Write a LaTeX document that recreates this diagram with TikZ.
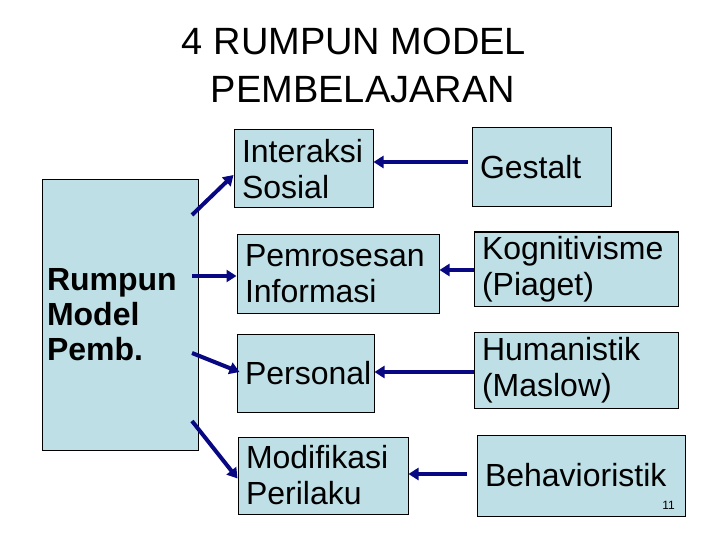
\documentclass[tikz,border=0pt]{standalone}
\usepackage{fontspec}
\setmainfont{Liberation Sans}
\usetikzlibrary{arrows.meta,calc}
\definecolor{boxfill}{RGB}{190,223,229}
\definecolor{arrowblue}{RGB}{8,8,130}
\tikzset{
  box/.style={draw=black, line width=1pt, fill=boxfill, align=left, inner xsep=8pt, inner ysep=0pt, font=\fontsize{32}{36}\selectfont},
  conn/.style={draw=arrowblue, line width=4pt, -{Triangle[length=10pt,width=12pt]}},
}
\begin{document}
\begin{tikzpicture}[x=1pt,y=-1pt]
\useasboundingbox (0,0) rectangle (720,540);
% title
\node[anchor=base, font=\fontsize{38}{48}\selectfont, inner sep=0pt] (t1) at (354,55) {4 RUMPUN MODEL};
\node[anchor=base, font=\fontsize{38}{48}\selectfont, inner sep=0pt] (t2) at (363,103) {PEMBELAJARAN};
% left box
\node[box, font=\fontsize{32}{35}\selectfont\bfseries, inner xsep=5pt, minimum height=270pt, text width=146pt] (rm) at (120,315) {Rumpun\\Model\\Pemb.};
% middle column
\node[box, minimum height=78pt, text width=123pt] (is) at (303.5,169) {Interaksi\\Sosial};
\node[box, minimum height=79pt, text width=186pt] (pi) at (338,273.5) {Pemrosesan\\Informasi};
\node[box, minimum height=78pt, text width=121pt] (pe) at (305.5,373) {Personal};
\node[box, minimum height=77pt, text width=154pt] (mp) at (323,475.5) {Modifikasi\\Perilaku};
% right column
\node[box, minimum height=79pt, text width=123pt] (ge) at (541.5,167.5) {Gestalt};
\node[box, minimum height=74pt, text width=188pt] (kg) at (576,269) {Kognitivisme\\(Piaget)};
\node[box, minimum height=76pt, text width=188pt] (hu) at (576,370) {Humanistik\\(Maslow)};
\node[box, minimum height=81pt, text width=192pt] (be) at (581,475.5) {Behavioristik};
\node[anchor=base east, font=\fontsize{12}{14}\selectfont, inner sep=0pt] (pg) at (675,509) {11};
% connectors from left box
\coordinate (s1) at (192,215);
\coordinate (s2) at (192,276);
\coordinate (s3) at (192,353);
\coordinate (s4) at (192,421);
\draw[conn] (s1) -- ($(is.west)+(0,6)$);
\draw[conn] (s2) -- (pi.west|-s2);
\draw[conn] (s3) -- ($(pe.west)+(3,-1)$);
\draw[conn] (s4) -- ($(mp.west)+(0,3)$);
% connectors from right column
\coordinate (r1) at (468,162);
\coordinate (r2) at (474,270);
\coordinate (r3) at (474,372);
\coordinate (r4) at (467,474);
\draw[conn] (r1) -- (is.east|-r1);
\draw[conn] (r2) -- (pi.east|-r2);
\draw[conn] (r3) -- (pe.east|-r3);
\draw[conn] (r4) -- (mp.east|-r4);
\end{tikzpicture}
\end{document}
